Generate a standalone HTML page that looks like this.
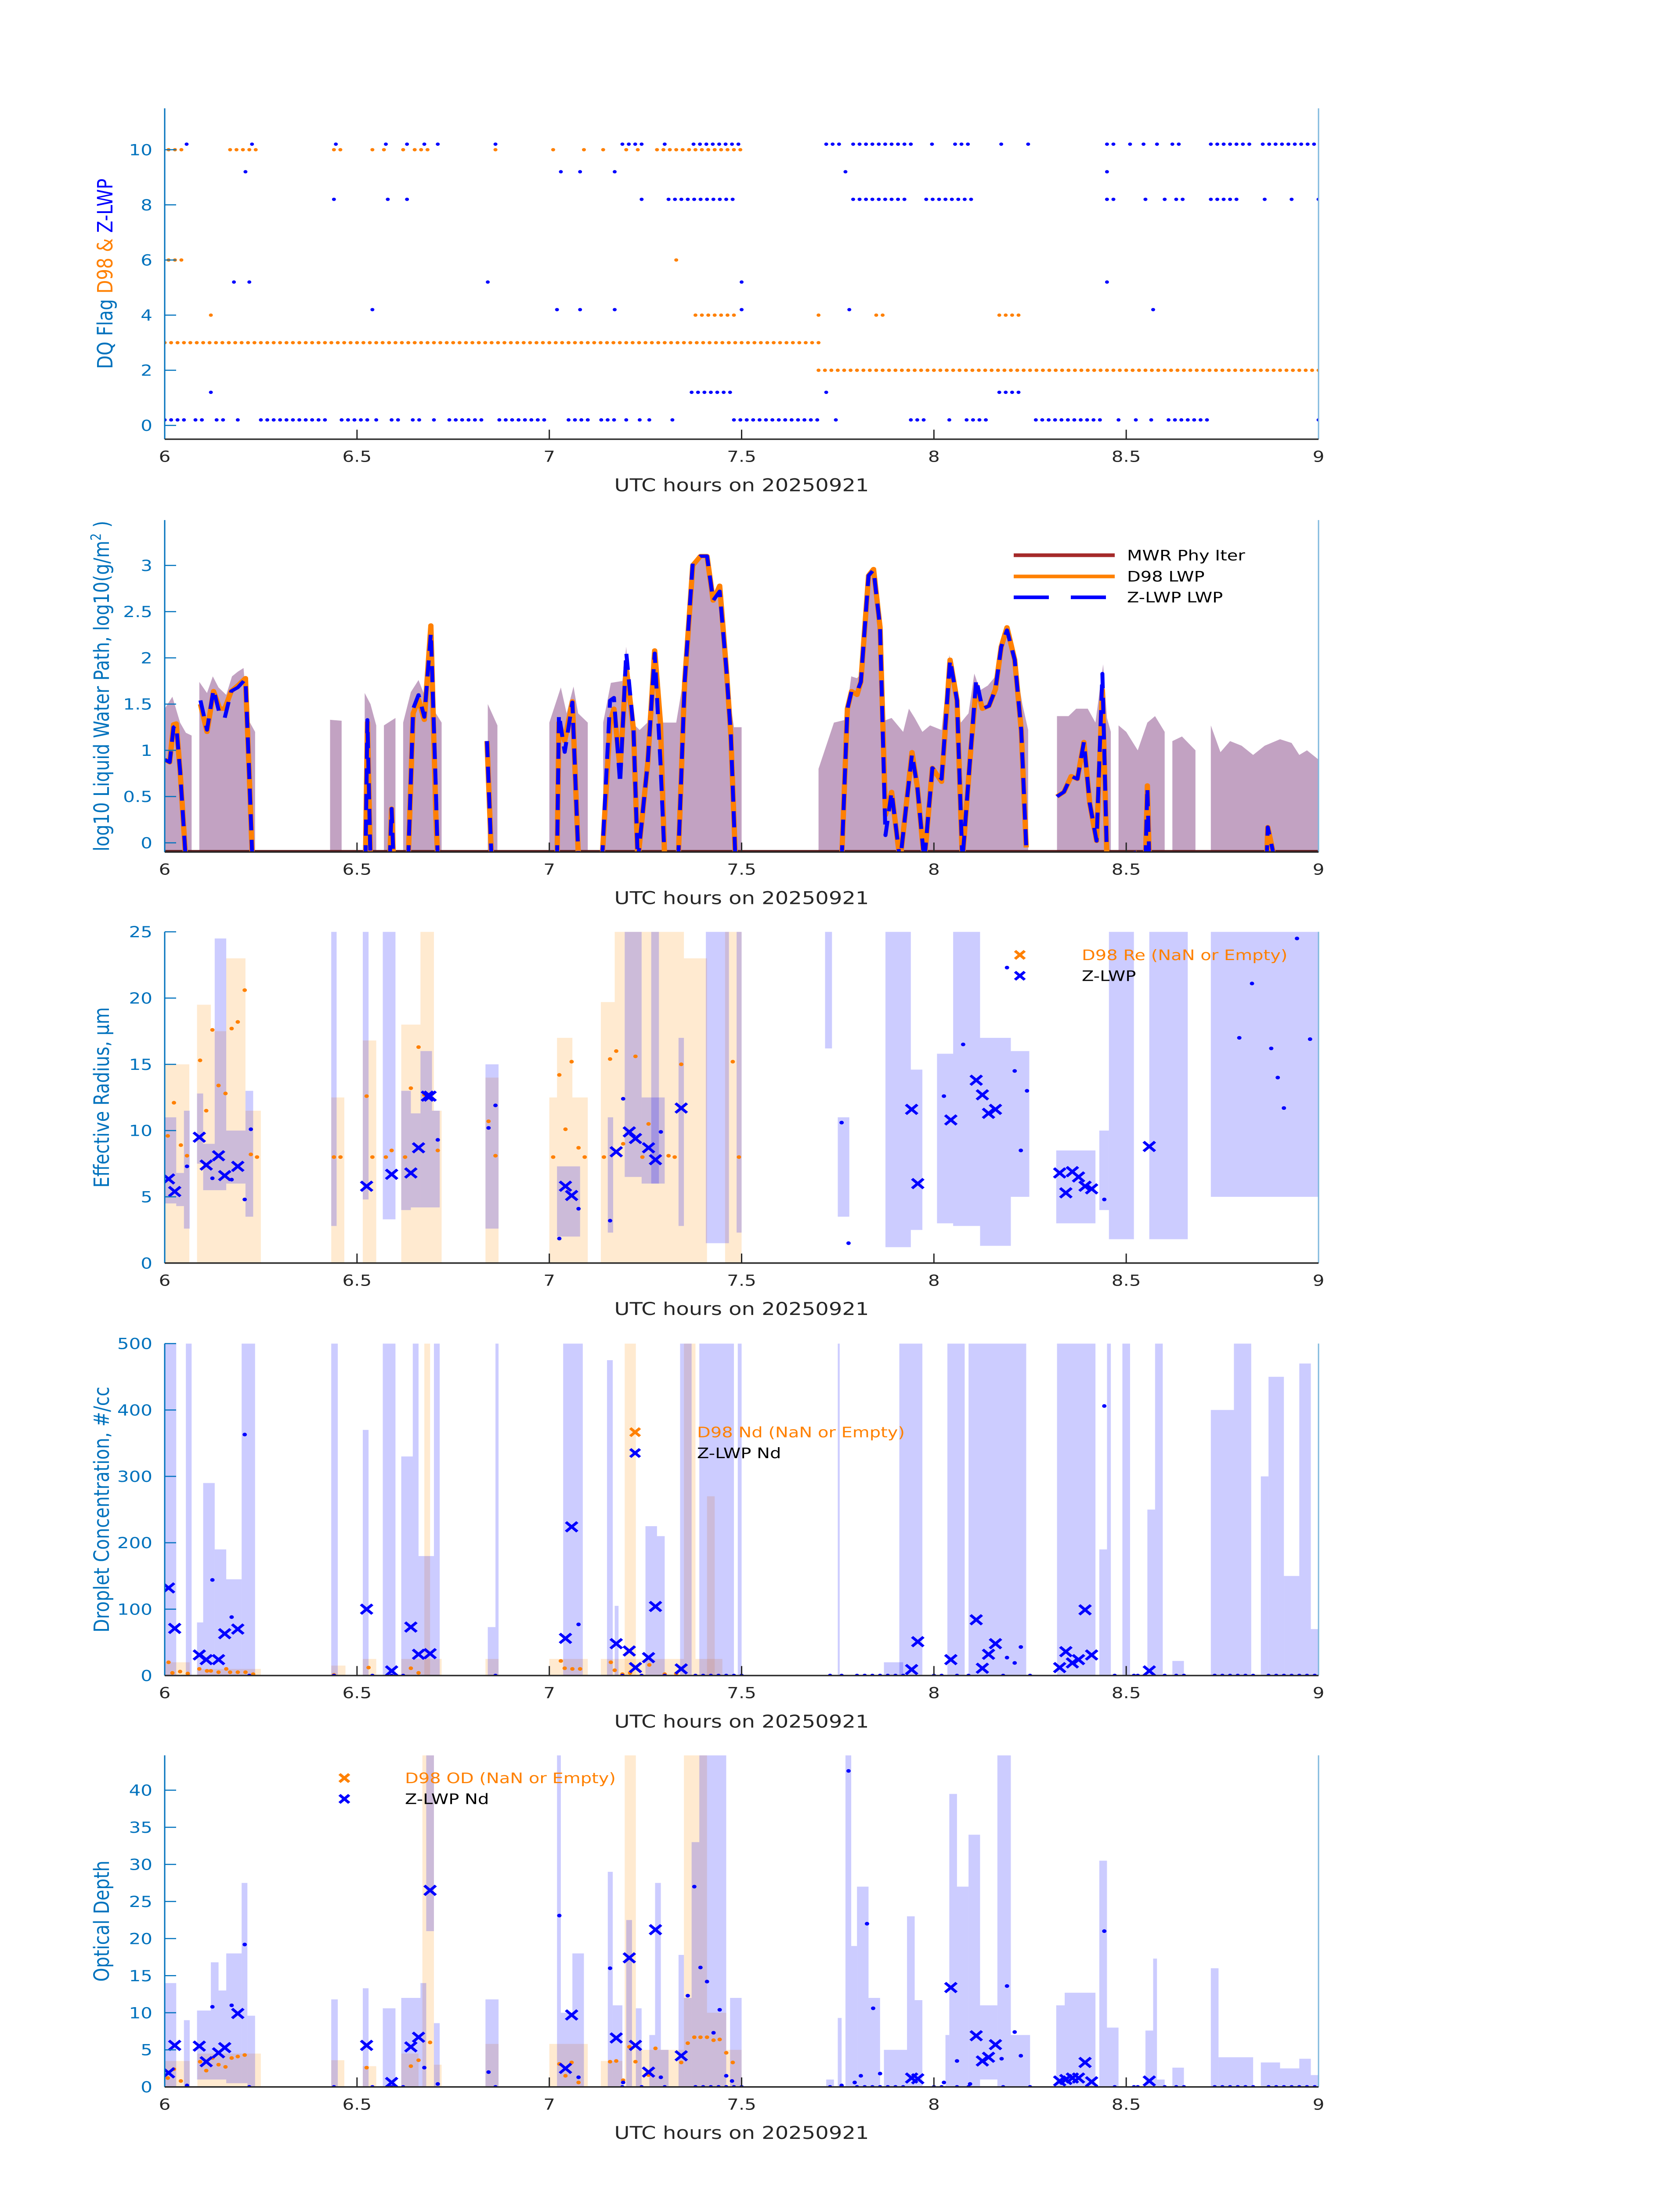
<!DOCTYPE html>
<html><head><meta charset="utf-8"><style>
html,body{margin:0;padding:0;background:#fff;width:100%;height:100%;overflow:hidden;}
svg{display:block;width:100vw;height:100vh;font-family:"DejaVu Sans","Liberation Sans",sans-serif;}
</style></head><body>
<svg id="fig" viewBox="0 0 3825 6000" preserveAspectRatio="none" xmlns="http://www.w3.org/2000/svg"></svg>
<script>
// ---------- shared ----------
const xTicks = [6, 6.5, 7, 7.5, 8, 8.5, 9];
const xTickLabels = ["6", "6.5", "7", "7.5", "8", "8.5", "9"];
const xTitle = "UTC hours on 20250921";

// ---------- panel 1: DQ flags (runs: start hour, end hour, flag) ----------
const d98FlagRuns = [[6.0,7.7,3],[7.7,9.0,2],[6.01,6.05,10],[6.17,6.24,10],[6.44,6.46,10],[6.54,6.54,10],[6.57,6.58,10],[6.62,6.62,10],[6.65,6.69,10],[6.86,6.86,10],[7.01,7.01,10],[7.09,7.09,10],[7.14,7.14,10],[7.2,7.2,10],[7.23,7.23,10],[7.28,7.5,10],[6.01,6.05,6],[7.33,7.33,6],[6.12,6.12,4],[7.38,7.48,4],[7.7,7.7,4],[7.85,7.87,4],[8.17,8.22,4]];
const zFlagRuns = [[6.0,6.05,0.2],[6.08,6.11,0.2],[6.135,6.155,0.2],[6.19,6.19,0.2],[6.25,6.43,0.2],[6.46,6.53,0.2],[6.55,6.55,0.2],[6.59,6.615,0.2],[6.645,6.67,0.2],[6.7,6.7,0.2],[6.74,6.83,0.2],[6.87,6.99,0.2],[7.05,7.11,0.2],[7.135,7.17,0.2],[7.2,7.2,0.2],[7.235,7.235,0.2],[7.26,7.26,0.2],[7.32,7.32,0.2],[7.48,7.7,0.2],[7.745,7.745,0.2],[7.94,7.98,0.2],[8.04,8.04,0.2],[8.085,8.14,0.2],[8.265,8.435,0.2],[8.48,8.49,0.2],[8.525,8.525,0.2],[8.565,8.565,0.2],[8.61,8.71,0.2],[9.0,9.0,0.2],
[6.057,6.057,10.2],[6.227,6.227,10.2],[6.445,6.445,10.2],[6.575,6.575,10.2],[6.63,6.63,10.2],[6.675,6.675,10.2],[6.71,6.71,10.2],[6.86,6.86,10.2],[7.19,7.245,10.2],[7.3,7.31,10.2],[7.375,7.5,10.2],[7.72,7.76,10.2],[7.79,7.94,10.2],[7.995,8.01,10.2],[8.055,8.1,10.2],[8.175,8.175,10.2],[8.245,8.245,10.2],[8.45,8.47,10.2],[8.51,8.51,10.2],[8.545,8.545,10.2],[8.58,8.58,10.2],[8.62,8.65,10.2],[8.72,8.83,10.2],[8.855,9.0,10.2],
[6.21,6.21,9.2],[7.03,7.03,9.2],[7.08,7.08,9.2],[7.17,7.17,9.2],[7.77,7.77,9.2],[8.45,8.45,9.2],
[6.44,6.44,8.2],[6.58,6.58,8.2],[6.63,6.63,8.2],[7.24,7.24,8.2],[7.31,7.49,8.2],[7.79,7.93,8.2],[7.98,8.1,8.2],[8.45,8.47,8.2],[8.55,8.55,8.2],[8.6,8.6,8.2],[8.63,8.65,8.2],[8.72,8.8,8.2],[8.86,8.86,8.2],[8.93,8.93,8.2],[9.0,9.0,8.2],
[6.18,6.18,5.2],[6.22,6.23,5.2],[6.84,6.84,5.2],[7.5,7.5,5.2],[8.45,8.45,5.2],
[6.54,6.54,4.2],[7.02,7.03,4.2],[7.08,7.08,4.2],[7.17,7.17,4.2],[7.5,7.5,4.2],[7.78,7.78,4.2],[8.57,8.57,4.2],
[6.12,6.12,1.2],[7.37,7.48,1.2],[7.72,7.72,1.2],[8.17,8.22,1.2]];
const p1YTicks = [0, 2, 4, 6, 8, 10];

// ---------- panel 2: LWP ----------
const lwpZ = [[6.0,0.9],[6.013,0.87],[6.023,1.25],[6.03,1.27],[6.04,0.78],[6.055,-0.2],null,
[6.093,1.54],[6.11,1.22],[6.127,1.66],[6.143,1.39],[6.156,1.35],[6.173,1.64],[6.19,1.68],[6.21,1.77],[6.22,0.72],[6.228,-0.2],null,
[6.522,-0.2],[6.527,1.33],[6.535,-0.2],null,[6.585,-0.2],[6.59,0.37],[6.595,-0.2],null,
[6.633,-0.2],[6.646,1.45],[6.66,1.6],[6.675,1.36],[6.692,2.27],[6.705,0.58],[6.71,-0.2],null,
[6.838,1.1],[6.85,-0.2],null,
[7.02,-0.2],[7.025,1.39],[7.04,0.98],[7.06,1.52],[7.076,-0.2],null,
[7.137,-0.2],[7.158,1.54],[7.168,1.57],[7.184,0.64],[7.2,2.06],[7.219,1.22],[7.23,-0.2],[7.256,0.87],[7.274,2.05],[7.289,0.87],[7.3,-0.2],null,
[7.335,-0.2],[7.352,1.74],[7.373,3.03],[7.393,3.1],[7.41,3.1],[7.426,2.62],[7.443,2.72],[7.46,1.89],[7.472,1.16],[7.484,-0.2],null,
[7.76,-0.2],[7.775,1.45],[7.786,1.64],[7.8,1.63],[7.81,1.74],[7.83,2.89],[7.843,2.95],[7.86,2.33],[7.874,0.08],[7.89,0.55],[7.912,-0.2],[7.943,0.96],[7.957,0.6],[7.975,-0.2],[7.996,0.81],[8.02,0.69],[8.042,1.98],[8.06,1.54],[8.074,-0.2],[8.095,0.96],[8.11,1.77],[8.126,1.45],[8.143,1.48],[8.16,1.66],[8.175,2.12],[8.19,2.3],[8.21,1.98],[8.227,1.22],[8.24,-0.05],null,
[8.32,0.5],[8.338,0.55],[8.357,0.72],[8.373,0.69],[8.39,1.09],[8.405,0.43],[8.423,0.02],[8.438,1.83],[8.45,-0.2],null,
[8.52,-0.09],[8.53,-0.2],null,[8.55,-0.2],[8.555,0.6],[8.56,-0.2],null,
[8.865,-0.2],[8.868,0.17],[8.887,-0.2]];
const lwpD98 = [[6.0,0.9],[6.013,0.87],[6.023,1.28],[6.03,1.29],[6.04,0.78],[6.055,-0.2],null,
[6.093,1.5],[6.11,1.2],[6.127,1.64],[6.143,1.45],[6.156,1.45],[6.173,1.64],[6.19,1.7],[6.21,1.78],[6.22,0.72],[6.228,-0.2],null,
[6.522,-0.2],[6.527,1.3],[6.535,-0.2],null,[6.585,-0.2],[6.59,0.37],[6.595,-0.2],null,
[6.633,-0.2],[6.646,1.4],[6.66,1.55],[6.675,1.33],[6.692,2.35],[6.705,0.3],[6.71,-0.2],null,
[6.838,1.1],[6.85,-0.2],null,
[7.02,-0.2],[7.025,1.3],[7.04,1.1],[7.06,1.53],[7.076,-0.2],null,
[7.137,-0.2],[7.158,1.3],[7.168,1.45],[7.184,0.8],[7.2,1.9],[7.219,1.22],[7.23,-0.2],[7.256,0.87],[7.274,2.08],[7.289,1.3],[7.3,-0.2],null,
[7.335,-0.2],[7.352,1.74],[7.373,3.0],[7.393,3.1],[7.41,3.1],[7.426,2.62],[7.443,2.78],[7.46,1.89],[7.472,1.16],[7.484,-0.2],null,
[7.76,-0.2],[7.775,1.45],[7.786,1.64],[7.8,1.6],[7.81,1.74],[7.83,2.89],[7.843,2.96],[7.86,2.33],[7.874,0.3],[7.89,0.55],[7.912,-0.2],[7.943,0.98],[7.957,0.6],[7.975,-0.2],[7.996,0.81],[8.02,0.66],[8.042,1.98],[8.06,1.54],[8.074,-0.2],[8.095,0.96],[8.11,1.7],[8.126,1.45],[8.143,1.48],[8.16,1.66],[8.175,2.12],[8.19,2.33],[8.21,1.98],[8.227,1.22],[8.24,-0.05],null,
[8.32,0.5],[8.338,0.55],[8.357,0.72],[8.373,0.69],[8.39,1.09],[8.405,0.43],[8.423,0.02],[8.438,1.65],[8.45,-0.2],null,
[8.52,-0.09],[8.53,-0.2],null,[8.55,-0.2],[8.555,0.62],[8.56,-0.2],null,
[8.865,-0.2],[8.868,0.17],[8.887,-0.2]];
const mwrBandUpper = [[6.0,1.45],[6.02,1.58],[6.04,1.3],[6.055,1.19],[6.07,1.16],null,
[6.09,1.74],[6.11,1.62],[6.125,1.8],[6.14,1.68],[6.16,1.6],[6.175,1.8],[6.19,1.85],[6.205,1.89],[6.215,1.35],[6.235,1.2],null,
[6.43,1.33],[6.46,1.32],null,[6.52,1.62],[6.535,1.5],[6.55,1.27],null,[6.57,1.27],[6.6,1.35],null,
[6.62,1.3],[6.64,1.63],[6.66,1.76],[6.675,1.6],[6.69,2.36],[6.705,1.4],[6.72,1.3],null,
[6.84,1.5],[6.865,1.27],null,
[7.0,1.3],[7.03,1.68],[7.045,1.4],[7.063,1.69],[7.075,1.4],[7.1,1.3],null,
[7.14,1.3],[7.16,1.73],[7.19,1.75],[7.2,2.12],[7.215,1.3],[7.235,1.22],[7.255,1.3],[7.27,2.1],[7.29,1.3],[7.33,1.3],[7.35,1.8],[7.37,3.03],[7.39,3.1],[7.41,3.1],[7.43,2.65],[7.445,2.78],[7.46,1.83],[7.48,1.25],[7.5,1.25],null,
[7.7,0.8],[7.74,1.3],[7.77,1.33],[7.785,1.8],[7.8,1.78],[7.815,1.85],[7.83,2.9],[7.845,2.96],[7.86,2.35],[7.87,1.32],[7.89,1.35],[7.9,1.3],[7.92,1.2],[7.935,1.45],[7.95,1.35],[7.97,1.2],[7.99,1.27],[8.02,1.22],[8.04,2.03],[8.06,1.55],[8.07,1.3],[8.09,1.4],[8.105,1.83],[8.12,1.65],[8.14,1.7],[8.16,1.8],[8.18,2.2],[8.19,2.33],[8.21,2.0],[8.23,1.5],[8.245,1.22],null,
[8.32,1.37],[8.35,1.37],[8.37,1.45],[8.4,1.45],[8.42,1.3],[8.44,1.93],[8.45,1.35],[8.46,1.2],null,
[8.48,1.27],[8.5,1.2],[8.53,1.0],[8.555,1.3],[8.575,1.37],[8.6,1.2],null,
[8.62,1.1],[8.645,1.15],[8.68,1.0],null,
[8.72,1.27],[8.745,0.98],[8.77,1.1],[8.8,1.05],[8.83,0.95],[8.86,1.05],[8.9,1.12],[8.93,1.08],[8.95,0.95],[8.97,1.0],[9.0,0.9]];
const p2YTicks = [0, 0.5, 1, 1.5, 2, 2.5, 3];
const p2YTickLabels = ["0", "0.5", "1", "1.5", "2", "2.5", "3"];
const p2Legend = ["MWR Phy Iter", "D98 LWP", "Z-LWP LWP"];

// ---------- panel 3: effective radius ----------
const reD98Band = [[6.0,6.064,0,15],[6.084,6.12,0,19.5],[6.12,6.16,0,17.5],[6.16,6.21,0,23],[6.21,6.25,0,11.5],[6.433,6.467,0,12.5],[6.515,6.55,0,16.8],[6.615,6.665,0,18],[6.665,6.7,0,25],[6.7,6.72,0,11.5],[6.834,6.868,0,14],[7.0,7.02,0,12.5],[7.02,7.06,0,17],[7.06,7.1,0,12.5],[7.134,7.17,0,19.7],[7.17,7.35,0,25],[7.35,7.41,0,23],[7.457,7.5,0,25]];
const reZBand = [[6.0,6.03,4.5,11],[6.03,6.05,4.3,6.8],[6.05,6.065,2.6,11.5],[6.084,6.1,7.5,12.8],[6.1,6.13,5.5,9],[6.13,6.16,5.5,24.5],[6.16,6.21,6,10],[6.21,6.23,3.5,13],[6.433,6.447,2.8,25],[6.515,6.53,4.8,25],[6.567,6.6,3.3,25],[6.615,6.64,4,13],[6.64,6.665,4.2,11.3],[6.665,6.695,4.2,16],[6.695,6.715,4.2,11.5],[6.834,6.868,2.6,15],[7.02,7.08,2,7.3],[7.152,7.166,2.3,11],[7.196,7.24,6.5,25],[7.24,7.3,6,12.5],[7.265,7.285,6,25],[7.336,7.35,2.8,17],[7.407,7.467,1.5,25],[7.487,7.5,2.3,25],[7.717,7.735,16.2,25],[7.75,7.78,3.5,11],[7.874,7.94,1.2,25],[7.94,7.97,2.5,14.6],[8.008,8.05,3,15.8],[8.05,8.12,2.8,25],[8.12,8.2,1.3,17],[8.2,8.248,5,16],[8.318,8.42,3,8.5],[8.43,8.455,4,10],[8.455,8.52,1.8,25],[8.56,8.66,1.8,25],[8.72,8.9,5,25],[8.9,9.0,5,25]];
const reZMarks = [[6.01,6.35],[6.026,5.4],[6.09,9.5],[6.108,7.4],[6.14,8.1],[6.156,6.6],[6.19,7.3],[6.525,5.8],[6.59,6.7],[6.64,6.8],[6.66,8.7],[6.683,12.6],[6.69,12.6],[7.042,5.8],[7.058,5.1],[7.174,8.4],[7.208,9.9],[7.224,9.4],[7.258,8.7],[7.276,7.8],[7.343,11.7],[7.942,11.6],[7.958,6.0],[8.044,10.8],[8.11,13.8],[8.126,12.7],[8.142,11.3],[8.16,11.6],[8.327,6.8],[8.343,5.3],[8.36,6.9],[8.376,6.5],[8.393,5.8],[8.41,5.6],[8.56,8.8]];
const reZDots = [[6.058,7.3],[6.124,6.4],[6.174,6.3],[6.208,4.8],[6.224,10.1],[6.71,9.3],[6.842,10.2],[6.86,11.9],[7.026,1.85],[7.076,4.1],[7.158,3.2],[7.192,12.4],[7.29,9.9],[7.76,10.6],[7.778,1.5],[8.026,12.6],[8.076,16.5],[8.19,22.3],[8.21,14.5],[8.226,8.5],[8.242,13],[8.443,4.8],[8.794,17],[8.827,21.1],[8.877,16.2],[8.894,14],[8.91,11.7],[8.944,24.5],[8.978,16.9]];
const reD98Dots = [[6.008,9.6],[6.024,12.1],[6.042,8.9],[6.058,8.1],[6.092,15.3],[6.108,11.5],[6.124,17.6],[6.14,13.4],[6.158,12.8],[6.174,17.7],[6.19,18.2],[6.208,20.6],[6.224,8.2],[6.24,8.0],[6.44,8],[6.457,8],[6.525,12.6],[6.54,8],[6.575,8],[6.59,8.5],[6.625,8],[6.64,13.2],[6.66,16.3],[6.675,12.7],[6.71,8.5],[6.842,10.7],[6.86,8.1],[7.01,8],[7.026,14.2],[7.042,10.1],[7.058,15.2],[7.076,8.7],[7.092,8],[7.142,8],[7.158,15.4],[7.174,16],[7.192,9],[7.224,15.6],[7.242,8],[7.258,10.5],[7.31,8.1],[7.326,8],[7.343,15],[7.477,15.2],[7.493,8]];
const p3YTicks = [0, 5, 10, 15, 20, 25];
const p3Legend = ["D98 Re (NaN or Empty)", "Z-LWP"];

// ---------- panel 4: droplet concentration ----------
const ndD98Band = [[6.0,6.065,0,20],[6.085,6.25,0,10],[6.433,6.47,0,15],[6.515,6.55,0,25],[6.615,6.72,0,25],[6.675,6.69,0,500],[6.834,6.868,0,25],[7.0,7.1,0,25],[7.134,7.35,0,25],[7.196,7.225,0,500],[7.35,7.38,0,500],[7.38,7.45,0,25],[7.41,7.43,0,270]];
const ndZBand = [[6.0,6.03,0,500],[6.055,6.07,0,500],[6.084,6.1,0,80],[6.1,6.13,0,290],[6.13,6.16,0,190],[6.16,6.2,0,145],[6.2,6.235,0,500],[6.433,6.45,0,500],[6.515,6.53,0,370],[6.567,6.6,0,500],[6.615,6.645,0,330],[6.645,6.66,0,500],[6.66,6.7,0,180],[6.7,6.715,0,500],[6.84,6.86,0,73],[6.86,6.868,0,500],[7.036,7.087,0,500],[7.15,7.165,0,475],[7.17,7.18,0,105],[7.25,7.28,0,225],[7.28,7.3,0,210],[7.34,7.37,0,500],[7.39,7.48,0,500],[7.49,7.5,0,500],[7.75,7.755,0,500],[7.87,7.92,0,20],[7.91,7.97,0,500],[8.035,8.08,0,500],[8.09,8.24,0,500],[8.32,8.42,0,500],[8.43,8.45,0,190],[8.45,8.46,0,500],[8.49,8.51,0,500],[8.555,8.575,0,250],[8.575,8.595,0,500],[8.62,8.65,0,22],[8.72,8.78,0,400],[8.78,8.825,0,500],[8.85,8.87,0,300],[8.87,8.91,0,450],[8.91,8.95,0,150],[8.95,8.98,0,470],[8.98,9.0,0,70]];
const ndZMarks = [[6.01,132],[6.026,71],[6.09,31],[6.108,24],[6.14,24],[6.156,63],[6.19,70],[6.525,100],[6.59,7],[6.64,73],[6.66,32],[6.69,33],[7.042,56],[7.058,224],[7.174,48],[7.208,37],[7.224,12],[7.258,27],[7.276,104],[7.343,10],[7.942,9],[7.958,51],[8.044,24],[8.11,84],[8.126,11],[8.142,32],[8.16,48],[8.327,12],[8.343,36],[8.36,19],[8.376,24],[8.393,99],[8.41,31],[8.56,7]];
const ndZDots = [[6.124,144],[6.174,88],[6.208,363],[7.076,77],[8.19,27],[8.21,19],[8.226,43],[8.443,406]];
const ndD98Dots = [[6.01,20],[6.02,4],[6.04,6],[6.06,3],[6.09,10],[6.11,7],[6.12,7],[6.14,5],[6.16,10],[6.17,5],[6.19,5],[6.21,5],[6.23,2],[6.44,1],[6.53,12],[6.64,11],[6.66,4],[7.03,22],[7.04,11],[7.06,10],[7.08,10],[7.16,20],[7.17,8],[7.19,2],[7.21,4],[7.26,16],[7.3,2],[7.33,3]];
const zeroDotTimes = [6.22,6.44,6.54,6.59,6.62,6.86,7.19,7.24,7.3,7.38,7.4,7.42,7.44,7.46,7.48,7.5,7.73,7.76,7.8,7.82,7.84,7.86,7.88,7.9,7.92,8.0,8.02,8.06,8.09,8.18,8.25,8.47,8.52,8.53,8.6,8.63,8.65,8.73,8.75,8.77,8.79,8.81,8.83,8.87,8.89,8.91,8.93,8.95,8.97,8.99];
const p4YTicks = [0, 100, 200, 300, 400, 500];
const p4Legend = ["D98 Nd (NaN or Empty)", "Z-LWP Nd"];

// ---------- panel 5: optical depth ----------
const odD98Band = [[6.0,6.065,0,3.5],[6.085,6.25,0,4.5],[6.433,6.467,0,3.6],[6.515,6.55,0,2.8],[6.615,6.66,0,4.5],[6.67,6.7,0,44.7],[6.7,6.72,0,3],[6.834,6.868,0,5.8],[7.0,7.1,0,5.8],[7.134,7.19,0,3.5],[7.196,7.225,0,44.7],[7.225,7.35,0,5],[7.35,7.41,0,44.7],[7.41,7.46,0,10],[7.46,7.5,0,5]];
const odZBand = [[6.0,6.03,0,14],[6.05,6.065,0,9],[6.084,6.12,1,10.3],[6.12,6.14,1,16.8],[6.14,6.16,1,13],[6.16,6.2,0.5,18],[6.2,6.215,0.5,27.5],[6.215,6.235,0,9.6],[6.433,6.45,0,11.8],[6.515,6.53,0,13.3],[6.567,6.6,0,10.6],[6.615,6.665,0,12],[6.665,6.68,0,14],[6.68,6.7,21,44.7],[6.7,6.715,0,8.6],[6.834,6.868,0,11.8],[7.02,7.03,0,44.7],[7.03,7.06,0,10],[7.06,7.09,0,18],[7.152,7.165,0,29],[7.165,7.19,0,11],[7.2,7.215,0,22.5],[7.225,7.24,0,10.6],[7.26,7.275,0,7],[7.275,7.29,0,27.5],[7.29,7.31,0,5],[7.336,7.35,0,17.8],[7.35,7.37,0,12],[7.37,7.39,0,33],[7.39,7.46,0,44.7],[7.47,7.5,0,12],[7.72,7.74,0,1],[7.75,7.76,0,9.3],[7.77,7.785,0,44.7],[7.785,7.8,0,19],[7.8,7.83,0,27],[7.83,7.86,0,12],[7.87,7.93,0,5],[7.93,7.95,0,23],[7.95,7.97,0,11.7],[8.03,8.04,0,7],[8.04,8.06,0,39.5],[8.06,8.09,0,27],[8.09,8.12,0,34],[8.12,8.165,1,11],[8.165,8.2,0,44.7],[8.2,8.25,0,7],[8.318,8.34,0,11],[8.34,8.42,0,12.7],[8.43,8.45,0,30.5],[8.45,8.48,0,8],[8.55,8.57,0,7.6],[8.57,8.58,0,17.3],[8.58,8.6,0,1],[8.62,8.65,0,2.6],[8.72,8.74,0,16],[8.74,8.83,0,4],[8.85,8.9,0,3.3],[8.9,8.95,0,2.5],[8.95,8.98,0,3.8],[8.98,9.0,0,1.6]];
const odZMarks = [[6.01,1.9],[6.026,5.6],[6.09,5.5],[6.108,3.4],[6.14,4.6],[6.156,5.3],[6.19,9.9],[6.525,5.6],[6.59,0.6],[6.64,5.4],[6.66,6.7],[6.69,26.5],[7.042,2.5],[7.058,9.7],[7.174,6.6],[7.208,17.4],[7.224,5.6],[7.258,2.0],[7.276,21.2],[7.343,4.2],[7.942,1.2],[7.958,1.1],[8.044,13.4],[8.11,6.9],[8.126,3.5],[8.142,4.0],[8.16,5.7],[8.327,0.8],[8.343,1.0],[8.36,1.2],[8.376,1.2],[8.393,3.3],[8.41,0.7],[8.56,0.8]];
const odZDots = [[6.058,0.2],[6.124,10.8],[6.174,11],[6.208,19.2],[6.675,2.6],[6.71,0.4],[6.842,2],[7.026,23.1],[7.076,1.3],[7.158,16],[7.192,0.6],[7.29,1.3],[7.36,12.3],[7.377,27],[7.393,16.1],[7.41,14.2],[7.427,7.3],[7.443,10.4],[7.46,1.5],[7.475,0.8],[7.76,0.2],[7.778,42.6],[7.794,0.6],[7.81,1.5],[7.826,22],[7.842,10.6],[7.86,1.8],[8.026,0.6],[8.06,3.5],[8.094,0.4],[8.176,3.8],[8.19,13.6],[8.21,7.4],[8.226,4.2],[8.443,21]];
const odD98Dots = [[6.008,1.2],[6.024,2.4],[6.042,0.8],[6.092,3.4],[6.108,2.2],[6.124,3.9],[6.14,3],[6.158,2.7],[6.174,3.9],[6.19,4.1],[6.208,4.3],[6.525,2.6],[6.64,2.8],[6.66,3.6],[6.69,6.0],[7.026,3.1],[7.042,1.5],[7.058,3.3],[7.076,0.6],[7.158,3.4],[7.174,3.5],[7.192,0.9],[7.208,5.4],[7.224,3.4],[7.258,1.6],[7.276,5.2],[7.343,3.3],[7.36,5.9],[7.377,6.7],[7.393,6.7],[7.41,6.7],[7.427,6.3],[7.443,6.4],[7.46,4.6],[7.477,3.3]];
const p5YTicks = [0, 5, 10, 15, 20, 25, 30, 35, 40];
const p5Legend = ["D98 OD (NaN or Empty)", "Z-LWP Nd"];

// ---------- rendering ----------
const NS = "http://www.w3.org/2000/svg";
const svg = document.getElementById("fig");
const AXC = "#0072BD", ORANGE = "#FF8000", BLUE = "#0000FF", TXT = "#262626";
function mk(tag, attrs, parent) {
  const e = document.createElementNS(NS, tag);
  for (const k in attrs) e.setAttribute(k, attrs[k]);
  (parent || svg).appendChild(e);
  return e;
}
const L = 375, R = 3002;
function makeAxes(key, top, bot, y0, y1) {
  const g = mk("g", {});
  
  
  const sx = t => L + (t - 6) / 3 * (R - L);
  const sy = v => bot - (v - y0) / (y1 - y0) * (bot - top);
  const defs = mk("defs", {}, g);
  const cp = mk("clipPath", { id: "clip-" + key }, defs);
  mk("rect", { x: L, y: top, width: R - L, height: bot - top }, cp);
  const plot = mk("g", { "clip-path": "url(#clip-" + key + ")" }, g);
  
  
  return { g, plot, sx, sy, top, bot };
}
function drawFrame(ax, key, yTicks, yLabels) {
  const g = ax.g;
  xTicks.forEach((t, i) => {
    const x = ax.sx(t);
    const tk = mk("line", { x1: x, x2: x, y1: ax.bot, y2: ax.bot - 26, stroke: TXT, "stroke-width": 3 }, g);
    
    
    const lb = mk("text", { x: x, y: ax.bot + 62, "font-size": 42, fill: TXT, "text-anchor": "middle" }, g);
    lb.textContent = xTickLabels[i];
    
    
  });
  const xt = mk("text", { x: (L + R) / 2, y: ax.bot + 142, "font-size": 48, fill: TXT, "text-anchor": "middle" }, g);
  xt.textContent = xTitle;
  
  
  yTicks.forEach((v, i) => {
    const y = ax.sy(v);
    const tk = mk("line", { x1: L, x2: L + 26, y1: y, y2: y, stroke: AXC, "stroke-width": 3 }, g);
    
    
    const lb = mk("text", { x: L - 28, y: y + 15, "font-size": 42, fill: AXC, "text-anchor": "end" }, g);
    lb.textContent = yLabels ? yLabels[i] : String(v);
    
    
  });
  const ly = mk("line", { x1: L, x2: L, y1: ax.top, y2: ax.bot, stroke: AXC, "stroke-width": 3 }, g);
  
  
  const ry = mk("line", { x1: R, x2: R, y1: ax.top, y2: ax.bot, stroke: "#7FB8DE", "stroke-width": 3 }, g);
  
  
  const lx = mk("line", { x1: L, x2: R, y1: ax.bot, y2: ax.bot, stroke: TXT, "stroke-width": 4 }, g);
  
  
}
function yTitle(ax, x, parts, name) {
  const cy = (ax.top + ax.bot) / 2;
  const t = mk("text", { x: 0, y: 0, "font-size": 48, "text-anchor": "middle", transform: "translate(" + x + "," + cy + ") rotate(-90)" }, ax.g);
  
  
  parts.forEach(p => {
    const s = mk("tspan", { fill: p[1] }, t);
    if (p[2]) { s.setAttribute("baseline-shift", "super"); s.setAttribute("font-size", 32); }
    s.textContent = p[0];
  });
}
function drawBlocks(ax, blocks, fill, name) {
  blocks.forEach(b => {
    const x0 = ax.sx(b[0]), x1 = ax.sx(b[1]);
    const yT = ax.sy(b[3]), yB = b[2] <= 0 ? ax.bot + 20 : ax.sy(b[2]);
    const r = mk("rect", { x: x0, y: yT, width: Math.max(4, x1 - x0), height: yB - yT, fill: fill }, ax.plot);
    
    
  });
}
function drawXMarks(ax, pts, color, name) {
  pts.forEach(p => {
    const x = ax.sx(p[0]), y = ax.sy(p[1]), s = 13;
    const m = mk("path", { d: `M${x - s},${y - s}L${x + s},${y + s}M${x - s},${y + s}L${x + s},${y - s}`, stroke: color, "stroke-width": 7 }, ax.plot);
    
    
  });
}
function drawDots(ax, pts, color, r, name) {
  pts.forEach(p => {
    const c = mk("circle", { cx: ax.sx(p[0]), cy: ax.sy(p[1]), r: r, fill: color }, ax.plot);
    
    
  });
}
function pathFromPairs(ax, pairs) {
  let d = "", pen = false;
  pairs.forEach(p => {
    if (!p) { pen = false; return; }
    d += (pen ? "L" : "M") + ax.sx(p[0]).toFixed(1) + "," + ax.sy(p[1]).toFixed(1);
    pen = true;
  });
  return d;
}
function legendMarkers(ax, x, tx, ys, labels, colors) {
  const g = mk("g", {}, ax.g);
  
  
  labels.forEach((lab, i) => {
    const y = ys[i], s = 11;
    const m = mk("path", { d: `M${x - s},${y - s}L${x + s},${y + s}M${x - s},${y + s}L${x + s},${y - s}`, stroke: i === 0 ? ORANGE : BLUE, "stroke-width": 7 }, g);
    
    
    const t = mk("text", { x: tx, y: y + 14, "font-size": 40, fill: colors[i] }, g);
    t.textContent = lab;
    
    
  });
}

// Panel 1
(function () {
  const ax = makeAxes("dq-flag", 296, 1200, -0.5, 11.5);
  const step = 1 / 60;
  function runs(list, color, name) {
    list.forEach(rn => {
      for (let t = rn[0]; t <= rn[1] + 1e-6; t += step) {
        const c = mk("circle", { cx: ax.sx(t), cy: ax.sy(rn[2]), r: 4.5, fill: color }, ax.plot);
        
        
      }
    });
  }
  runs(d98FlagRuns, ORANGE, "d98-flag-point");
  runs(zFlagRuns, BLUE, "zlwp-flag-point");
  drawFrame(ax, "dq-flag", p1YTicks);
  yTitle(ax, 256, [["DQ Flag  ", AXC], ["D98 & ", ORANGE], [" Z-LWP", BLUE]], "y-axis-title");
})();

// Panel 2
(function () {
  const ax = makeAxes("lwp", 1421, 2328, -0.1, 3.49);
  let seg = [];
  const segs = [];
  mwrBandUpper.forEach(p => { if (!p) { segs.push(seg); seg = []; } else seg.push(p); });
  if (seg.length) segs.push(seg);
  segs.forEach(s => {
    let d = "M" + ax.sx(s[0][0]) + "," + (ax.bot + 10);
    s.forEach(p => { d += "L" + ax.sx(p[0]).toFixed(1) + "," + ax.sy(p[1]).toFixed(1); });
    d += "L" + ax.sx(s[s.length - 1][0]) + "," + (ax.bot + 10) + "Z";
    const b = mk("path", { d: d, fill: "rgba(128,60,128,0.48)" }, ax.plot);
    
    
  });
  const mwr = mk("line", { x1: L, x2: R, y1: ax.bot - 3, y2: ax.bot - 3, stroke: "#5a1a1a", "stroke-width": 5 }, ax.plot);
  
  
  const d98 = mk("path", { d: pathFromPairs(ax, lwpD98), fill: "none", stroke: ORANGE, "stroke-width": 12, "stroke-linejoin": "round" }, ax.plot);
  
  
  const z = mk("path", { d: pathFromPairs(ax, lwpZ), fill: "none", stroke: BLUE, "stroke-width": 9, "stroke-dasharray": "44,26", "stroke-linejoin": "round" }, ax.plot);
  
  
  drawFrame(ax, "lwp", p2YTicks, p2YTickLabels);
  yTitle(ax, 248, [["log10 Liquid Water Path, log10(g/m", AXC], ["2", AXC, true], [" )", AXC]], "y-axis-title");
  const lg = mk("g", {}, ax.g);
  
  
  const cols = ["#A52A2A", ORANGE, BLUE], ys = [1517, 1575, 1632];
  p2Legend.forEach((lab, i) => {
    const ln = mk("line", { x1: 2308, x2: 2538, y1: ys[i], y2: ys[i], stroke: cols[i], "stroke-width": 10 }, lg);
    if (i === 2) ln.setAttribute("stroke-dasharray", "80,50");
    
    
    const t = mk("text", { x: 2566, y: ys[i] + 14, "font-size": 40, fill: "#000" }, lg);
    t.textContent = lab;
    
    
  });
})();

// Panel 3
(function () {
  const ax = makeAxes("re", 2546, 3451, 0, 25);
  drawBlocks(ax, reD98Band, "rgba(255,160,40,0.22)", "d98-re-band");
  drawBlocks(ax, reZBand, "rgba(0,0,255,0.2)", "zlwp-re-band");
  drawDots(ax, reD98Dots, ORANGE, 5, "d98-re-point");
  drawDots(ax, reZDots, BLUE, 5, "zlwp-re-point");
  drawXMarks(ax, reZMarks, BLUE, "zlwp-re-marker");
  drawFrame(ax, "re", p3YTicks);
  yTitle(ax, 248, [["Effective Radius, \u03bcm", AXC]], "y-axis-title");
  legendMarkers(ax, 2322, 2463, [2609, 2666], p3Legend, [ORANGE, "#000"]);
})();

// Panel 4
(function () {
  const ax = makeAxes("nd", 3671, 4578, 0, 500);
  drawBlocks(ax, ndD98Band, "rgba(255,160,40,0.22)", "d98-nd-band");
  drawBlocks(ax, ndZBand, "rgba(0,0,255,0.2)", "zlwp-nd-band");
  drawDots(ax, ndD98Dots, ORANGE, 5, "d98-nd-point");
  drawDots(ax, ndZDots, BLUE, 5, "zlwp-nd-point");
  drawDots(ax, zeroDotTimes.map(t => [t, 0]), BLUE, 5, "zlwp-nd-zero-point");
  drawXMarks(ax, ndZMarks, BLUE, "zlwp-nd-marker");
  drawFrame(ax, "nd", p4YTicks);
  yTitle(ax, 248, [["Droplet Concentration, #/cc", AXC]], "y-axis-title");
  legendMarkers(ax, 1446, 1587, [3913, 3970], p4Legend, [ORANGE, "#000"]);
})();

// Panel 5
(function () {
  const ax = makeAxes("od", 4796, 5702, 0, 44.7);
  drawBlocks(ax, odD98Band, "rgba(255,160,40,0.22)", "d98-od-band");
  drawBlocks(ax, odZBand, "rgba(0,0,255,0.2)", "zlwp-od-band");
  drawDots(ax, odD98Dots, ORANGE, 5, "d98-od-point");
  drawDots(ax, odZDots, BLUE, 5, "zlwp-od-point");
  drawDots(ax, zeroDotTimes.map(t => [t, 0]), BLUE, 5, "zlwp-od-zero-point");
  drawXMarks(ax, odZMarks, BLUE, "zlwp-od-marker");
  drawFrame(ax, "od", p5YTicks);
  yTitle(ax, 248, [["Optical Depth", AXC]], "y-axis-title");
  legendMarkers(ax, 784, 922, [4858, 4915], p5Legend, [ORANGE, "#000"]);
})();
</script>
</body></html>
